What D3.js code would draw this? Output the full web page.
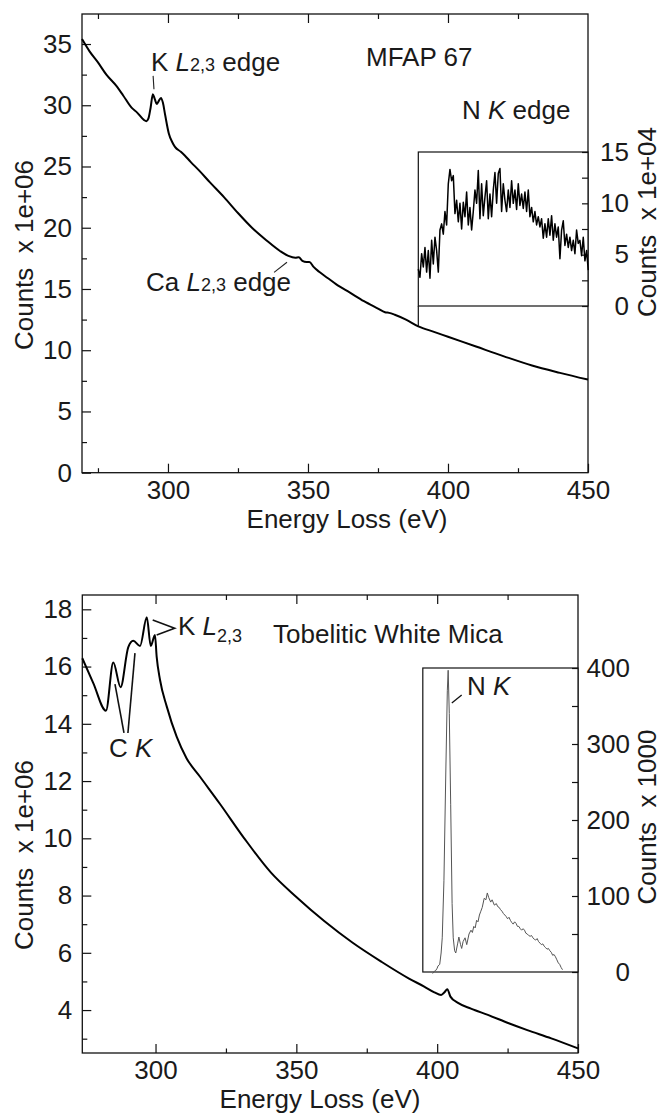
<!DOCTYPE html>
<html><head><meta charset="utf-8">
<script src="https://cdn.jsdelivr.net/npm/d3@7"></script>
<style>
body{margin:0;background:#fff;}
svg text{font-family:"Liberation Sans", Arial, Helvetica, sans-serif; fill:#1a1a1a;}
</style></head><body>
<svg id="c" width="663" height="1114" xmlns="http://www.w3.org/2000/svg"></svg>
<script>
// ---------------- DATA ----------------
// Upper panel: MFAP 67 (counts x 1e+06)
const topEnergy = [269.3,272,275,278,281.5,284,287,289,291.4,292.3,293,293.8,294.6,295.3,296,296.6,297.5,298.2,299,300.3,301.5,302.5,304.6,306,308,311,315,320,325,330,335,340,343,345.5,346.7,348,349.5,350.5,352,354,357,360,365,370,375,377.5,379,381,385,389.4,395,400,405,410,420,430,440,450];
const topCounts = [35.4,34.4,33.5,32.5,31.6,30.8,29.8,29.4,28.8,28.7,28.9,29.8,30.9,30.5,30.1,30.3,30.6,30.2,29.2,27.7,27.0,26.6,26.2,25.9,25.4,24.7,23.7,22.5,21.2,20.0,19.0,18.1,17.7,17.55,17.6,17.3,17.2,17.2,16.8,16.4,15.9,15.4,14.7,14.0,13.4,13.1,13.05,12.9,12.5,11.95,11.5,11.1,10.7,10.3,9.5,8.75,8.15,7.6];
// Upper inset: N K edge (counts x 1e+04), sampled on a regular energy grid
const topInsetStartEV = 389.4;
const topInsetStepEV = 0.595;
const topInsetCounts = [3.6,2.8,5.1,3.8,5.7,3.3,5.4,2.7,6.4,4.1,6.7,5.4,3.3,7.4,8.0,7.0,9.2,7.9,11.9,13.3,12.2,12.7,9.0,10.3,8.2,10.0,7.5,10.1,8.7,11.1,7.9,9.6,7.4,9.2,11.3,10.0,13.2,8.5,11.9,8.8,10.6,12.2,8.5,10.9,8.7,11.3,13.0,10.0,12.9,13.4,9.2,11.9,10.3,9.2,11.3,9.6,12.2,10.0,11.3,9.4,11.9,9.8,10.9,9.5,11.1,9.2,11.3,8.7,9.6,8.2,9.2,7.9,8.7,7.7,8.5,6.6,8.0,6.7,8.5,6.9,8.8,6.4,8.0,6.7,7.7,4.6,7.4,8.3,5.9,7.0,5.7,6.7,5.4,6.4,5.1,7.4,6.1,6.4,4.9,6.7,4.4,5.4,3.5];

// Lower panel: Tobelitic White Mica (counts x 1e+06)
const botEnergy = [274,277.9,282.4,285.0,287.6,290.3,292.1,294.5,296.9,298.3,299.8,300.4,301.6,304,307.5,311,315.8,322.9,331.5,341,350,360,370,380,390,395.4,399,401.4,402.6,403.6,404.7,407.4,412,418,425.4,432,440.5,450];
const botCounts = [16.29,15.42,14.46,16.14,15.28,16.67,16.9,16.72,17.72,16.72,17.1,16.35,15.53,14.6,13.55,12.8,12.15,11.2,10.0,8.8,7.95,7.1,6.35,5.7,5.1,4.82,4.62,4.53,4.62,4.73,4.47,4.25,4.05,3.83,3.54,3.30,3.01,2.66];
// Lower inset: N K (counts x 1000)
const botInsetEnergy = [398.4,399.0,399.5,400.0,400.3,400.9,401.4,401.8,402.4,403.0,403.6,403.9,404.3,404.8,405.3,405.7,406.2,406.6,407.3,407.7,408.3,408.7,409.2,409.9,410.5,411.3,412.0,412.5,413.0,413.5,414.0,414.5,415.0,415.5,416.0,416.7,417.3,417.8,418.3,419.0,419.5,420.3,421.0,421.5,422.0,422.5,423.0,423.5,424.0,424.5,425.0,425.5,426.0,426.5,427.0,427.5,428.0,428.5,429.0,429.5,430.0,430.5,431.0,431.5,432.0,432.5,433.0,433.5,434.0,434.5,435.0,435.5,436.0,436.5,437.0,437.5,438.0,438.5,439.0,439.5,440.0,440.5,441.0,441.5,442.0,442.5,443.0,443.5,444.0,444.5];
const botInsetCounts = [-2,1,2,5,8,10,25,45,120,250,370,397,340,220,90,45,28,25,38,46,36,31,40,45,36,50,55,52,60,58,68,66,75,80,85,97,95,104,98,92,95,88,90,86,85,82,80,77,75,73,70,72,68,65,63,66,64,60,60,57,55,57,55,51,50,48,47,48,45,43,42,44,40,38,36,37,34,32,30,31,28,26,22,23,20,16,12,10,6,3];

// Tick values and texts
const topYTicks = [0,5,10,15,20,25,30,35];
const topYMinor = [2.5,7.5,12.5,17.5,22.5,27.5,32.5];
const topInsetYTicks = [0,5,10,15];
const topInsetYMinor = [2.5,7.5,12.5];
const botYTicks = [4,6,8,10,12,14,16,18];
const botYMinor = [3,5,7,9,11,13,15,17];
const botInsetYTicks = [0,100,200,300,400];
const botInsetYMinor = [50,150,250,350];
const xTicks = [300,350,400,450];
const xMinorTop = [275,325,375,425];
const xMinorBot = [325,375,425];
const xLabel = "Energy Loss (eV)";
const yLabelMain = "Counts  x 1e+06";
const yLabelTopInset = "Counts  x 1e+04";
const yLabelBotInset = "Counts  x 1000";

// ---------------- LAYOUT ----------------
const svg = d3.select("#c");
const FS = 26;

function drawPanel(cfg) {
  const g = svg.append("g");
  const x = d3.scaleLinear().domain(cfg.xDomain).range([cfg.left, cfg.right]);
  const y = d3.scaleLinear().domain(cfg.yDomain).range([cfg.bottom, cfg.top]);

  g.append("rect").attr("x", cfg.left).attr("y", cfg.top)
    .attr("width", cfg.right - cfg.left).attr("height", cfg.bottom - cfg.top)
    .attr("fill", "none").attr("stroke", "#111").attr("stroke-width", 1.3);

  const ab = g.append("g").attr("transform", `translate(0,${cfg.bottom})`)
    .call(d3.axisBottom(x).tickValues(xTicks).tickSizeInner(-9).tickSizeOuter(0).tickPadding(8).tickFormat(d3.format("d")));
  ab.select(".domain").remove();
  ab.selectAll("line").attr("stroke", "#111").attr("stroke-width", 1.2);
  ab.selectAll("text").attr("font-size", FS).attr("font-family", null).attr("fill", "#1a1a1a");
  const abm = g.append("g").attr("transform", `translate(0,${cfg.bottom})`)
    .call(d3.axisBottom(x).tickValues(cfg.xMinor).tickSizeInner(-4.5).tickSizeOuter(0).tickFormat(""));
  abm.select(".domain").remove();
  abm.selectAll("line").attr("stroke", "#111").attr("stroke-width", 1.2);

  const at = g.append("g").attr("transform", `translate(0,${cfg.top})`)
    .call(d3.axisTop(x).tickValues(xTicks.filter(v => v < cfg.xDomain[1])).tickSizeInner(-9).tickSizeOuter(0).tickFormat(""));
  at.select(".domain").remove();
  at.selectAll("line").attr("stroke", "#111").attr("stroke-width", 1.2);
  const atm = g.append("g").attr("transform", `translate(0,${cfg.top})`)
    .call(d3.axisTop(x).tickValues(cfg.xMinorTop).tickSizeInner(-5).tickSizeOuter(0).tickFormat(""));
  atm.select(".domain").remove();
  atm.selectAll("line").attr("stroke", "#111").attr("stroke-width", 1.2);

  const al = g.append("g").attr("transform", `translate(${cfg.left},0)`)
    .call(d3.axisLeft(y).tickValues(cfg.yTicks).tickSizeInner(-9).tickSizeOuter(0).tickPadding(10).tickFormat(d3.format("d")));
  al.select(".domain").remove();
  al.selectAll("line").attr("stroke", "#111").attr("stroke-width", 1.2);
  al.selectAll("text").attr("font-size", FS).attr("font-family", null).attr("fill", "#1a1a1a");
  const alm = g.append("g").attr("transform", `translate(${cfg.left},0)`)
    .call(d3.axisLeft(y).tickValues(cfg.yMinor).tickSizeInner(-5).tickSizeOuter(0).tickFormat(""));
  alm.select(".domain").remove();
  alm.selectAll("line").attr("stroke", "#111").attr("stroke-width", 1.2);

  const line = d3.line().x(d => x(d[0])).y(d => y(d[1])).curve(d3.curveMonotoneX);
  g.append("path").datum(cfg.energy.map((e, i) => [e, cfg.counts[i]]))
    .attr("d", line).attr("fill", "none").attr("stroke", "#000").attr("stroke-width", 2).attr("stroke-linejoin", "round");

  g.append("text").attr("x", cfg.xLabelX).attr("y", cfg.bottom + 55).attr("text-anchor", "middle")
    .attr("font-size", FS).text(xLabel);
  g.append("text").attr("transform", `translate(33,${cfg.yLabelY}) rotate(-90)`).attr("text-anchor", "middle")
    .attr("font-size", FS).attr("xml:space", "preserve").style("white-space", "pre").text(yLabelMain);

  const ins = cfg.inset;
  const ix = x; // inset shares the main energy scale
  const iy = d3.scaleLinear().domain(ins.yDomain).range([ins.bottom, ins.top]);
  const il = x(ins.xStart);
  g.append("rect").attr("x", il).attr("y", ins.top).attr("width", cfg.right - il).attr("height", ins.bottom - ins.top)
    .attr("fill", "#fff").attr("stroke", "#111").attr("stroke-width", 1.2);
  const ar = g.append("g").attr("transform", `translate(${cfg.right},0)`)
    .call(d3.axisRight(iy).tickValues(ins.yTicks).tickSizeInner(-6).tickSizeOuter(0).tickPadding(0).tickFormat(d3.format("d")));
  ar.select(".domain").remove();
  ar.selectAll("line").attr("stroke", "#111").attr("stroke-width", 1.2);
  ar.selectAll("text").attr("font-size", FS).attr("font-family", null).attr("fill", "#1a1a1a")
    .attr("text-anchor", "end").attr("x", ins.labelX - cfg.right);
  const arm = g.append("g").attr("transform", `translate(${cfg.right},0)`)
    .call(d3.axisRight(iy).tickValues(ins.yMinor).tickSizeInner(-6).tickSizeOuter(0).tickFormat(""));
  arm.select(".domain").remove();
  arm.selectAll("line").attr("stroke", "#111").attr("stroke-width", 1.2);
  g.append("text").attr("transform", `translate(656,${ins.titleY}) rotate(-90)`).attr("text-anchor", "middle")
    .attr("font-size", FS).attr("xml:space", "preserve").style("white-space", "pre").text(ins.title);
  const iline = d3.line().x(d => ix(d[0])).y(d => iy(d[1]));
  g.append("path").datum(ins.energy.map((e, i) => [e, ins.counts[i]]))
    .attr("d", iline).attr("fill", "none").attr("stroke", ins.color).attr("stroke-width", ins.width).attr("stroke-linejoin", "round");

  return {g, x, y, iy};
}

// ---------- upper panel ----------
const topInsetEnergy = topInsetCounts.map((_, i) => topInsetStartEV + i * topInsetStepEV);
const P1 = drawPanel({
  left: 82, right: 588, top: 14, bottom: 472.7,
  xDomain: [269.3, 450], yDomain: [0, 37.45],
  yTicks: topYTicks, yMinor: topYMinor, xMinor: xMinorTop, xMinorTop: xMinorTop,
  energy: topEnergy, counts: topCounts,
  xLabelX: 347, yLabelY: 255,
  inset: { xStart: 389.4, top: 152, bottom: 306, yDomain: [0, 15], yTicks: topInsetYTicks, yMinor: topInsetYMinor,
           labelX: 629, title: yLabelTopInset, titleY: 222,
           energy: topInsetEnergy, counts: topInsetCounts, color: "#000", width: 1.5 }
});
P1.g.append("line").attr("x1", P1.x(389.4)).attr("x2", P1.x(389.4)).attr("y1", 306).attr("y2", P1.y(11.95))
  .attr("stroke", "#111").attr("stroke-width", 1.2);

function richText(g, xp, yp, parts) {
  const t = g.append("text").attr("x", xp).attr("y", yp).attr("font-size", FS).attr("xml:space", "preserve").style("white-space", "pre");
  parts.forEach(p => {
    const s = t.append("tspan").text(p.t);
    if (p.i) s.attr("font-style", "italic");
    if (p.s) s.attr("font-size", p.s);
    if (p.dy) s.attr("dy", p.dy);
  });
  return t;
}
richText(P1.g, 151, 71, [{t: "K "}, {t: "L", i: 1}, {t: "2,3", s: 18}, {t: " edge"}]);
P1.g.append("line").attr("x1", P1.x(294.7)).attr("y1", P1.y(32.4)).attr("x2", P1.x(295.0)).attr("y2", P1.y(31.3)).attr("stroke", "#222").attr("stroke-width", 1.1);
richText(P1.g, 366, 66, [{t: "MFAP 67"}]);
richText(P1.g, 462, 119, [{t: "N "}, {t: "K", i: 1}, {t: " edge"}]);
richText(P1.g, 146, 291, [{t: "Ca "}, {t: "L", i: 1}, {t: "2,3", s: 18}, {t: " edge"}]);
P1.g.append("line").attr("x1", P1.x(337.9)).attr("y1", P1.y(16.36)).attr("x2", P1.x(342.5)).attr("y2", P1.y(17.18)).attr("stroke", "#222").attr("stroke-width", 1.1);

// ---------- lower panel ----------
const P2 = drawPanel({
  left: 82.3, right: 578, top: 595, bottom: 1053,
  xDomain: [274, 450], yDomain: [2.5, 18.5],
  yTicks: botYTicks, yMinor: botYMinor, xMinor: xMinorBot, xMinorTop: xMinorBot,
  energy: botEnergy, counts: botCounts,
  xLabelX: 320, yLabelY: 855,
  inset: { xStart: 394.9, top: 668, bottom: 972, yDomain: [0, 400], yTicks: botInsetYTicks, yMinor: botInsetYMinor,
           labelX: 630, title: yLabelBotInset, titleY: 817,
           energy: botInsetEnergy, counts: botInsetCounts, color: "#555", width: 1 }
});
richText(P2.g, 273, 643, [{t: "Tobelitic White Mica"}]);
const lineData = d3.line().x(d => P2.x(d[0])).y(d => P2.y(d[1]));
P2.g.append("path").datum([[299.0, 17.63], [306.8, 17.34], [300.4, 17.1]]).attr("d", lineData)
  .attr("fill", "none").attr("stroke", "#111").attr("stroke-width", 1.6);
richText(P2.g, 178, 635, [{t: "K "}, {t: "L", i: 1}, {t: "2,3", s: 18, dy: 7}]);
richText(P2.g, 109, 757, [{t: "C "}, {t: "K", i: 1}]);
P2.g.append("path").datum([[285.6, 15.39], [288.8, 13.68]]).attr("d", lineData)
  .attr("fill", "none").attr("stroke", "#111").attr("stroke-width", 1.6);
P2.g.append("path").datum([[290.2, 13.68], [292.7, 16.47]]).attr("d", lineData)
  .attr("fill", "none").attr("stroke", "#111").attr("stroke-width", 1.6);
richText(P2.g, 467, 695, [{t: "N "}, {t: "K", i: 1}]);
P2.g.append("line").attr("x1", P2.x(405.2)).attr("y1", P2.iy(354)).attr("x2", P2.x(408.7)).attr("y2", P2.iy(364.5))
  .attr("stroke", "#111").attr("stroke-width", 1.3);
</script>
</body></html>
